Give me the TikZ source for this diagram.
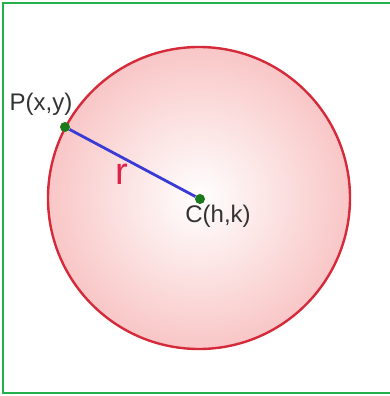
\documentclass[tikz,border=0pt]{standalone}
\usepackage{fontspec}
\setmainfont{Liberation Sans}
\usepackage{xcolor}
\usetikzlibrary{positioning}
\definecolor{framegreen}{HTML}{22B14C}
\definecolor{rimred}{HTML}{D42A3A}
\definecolor{diskpink}{HTML}{F9C6C6}
\definecolor{radiusblue}{HTML}{3A3AD6}
\definecolor{pointgreen}{HTML}{1B7A1B}
\definecolor{labelgrey}{HTML}{333333}
\definecolor{radiusred}{HTML}{E0204A}
\tikzset{
  border line/.style = {framegreen, line width=2.2pt},
  disk/.style        = {draw=rimred, line width=2.4pt, inner color=white,
                        outer color=diskpink},
  point/.style       = {circle, fill=pointgreen, inner sep=0pt, minimum size=10pt},
  radius line/.style = {radiusblue, line width=2.8pt},
  point label/.style = {font=\fontsize{24}{28}\selectfont, text=labelgrey,
                        inner sep=0pt},
}

\begin{document}
\begin{tikzpicture}[x=1pt,y=1pt]
  \useasboundingbox (0,0) rectangle (390,396);
  \draw[border line] (3,393) -- (396,393);
  \draw[border line] (3,2) -- (3,394);
  \draw[border line] (3,3) -- (396,3);
  \draw[disk] (199,198) circle (151);
  \node[point] (P) at (65,269) {};
  \node[point] (C) at (200,197) {};
  \draw[radius line] (P) -- (C);
  \node[point label] (Plabel) at (41,292) {P(x,y)};
  \node[point label] (Clabel) at (218,180) {C(h,k)};
  \node[font=\fontsize{38}{40}\selectfont, text=radiusred, inner sep=0pt]
    (rlabel) at (122,222) {r};
\end{tikzpicture}
\end{document}
